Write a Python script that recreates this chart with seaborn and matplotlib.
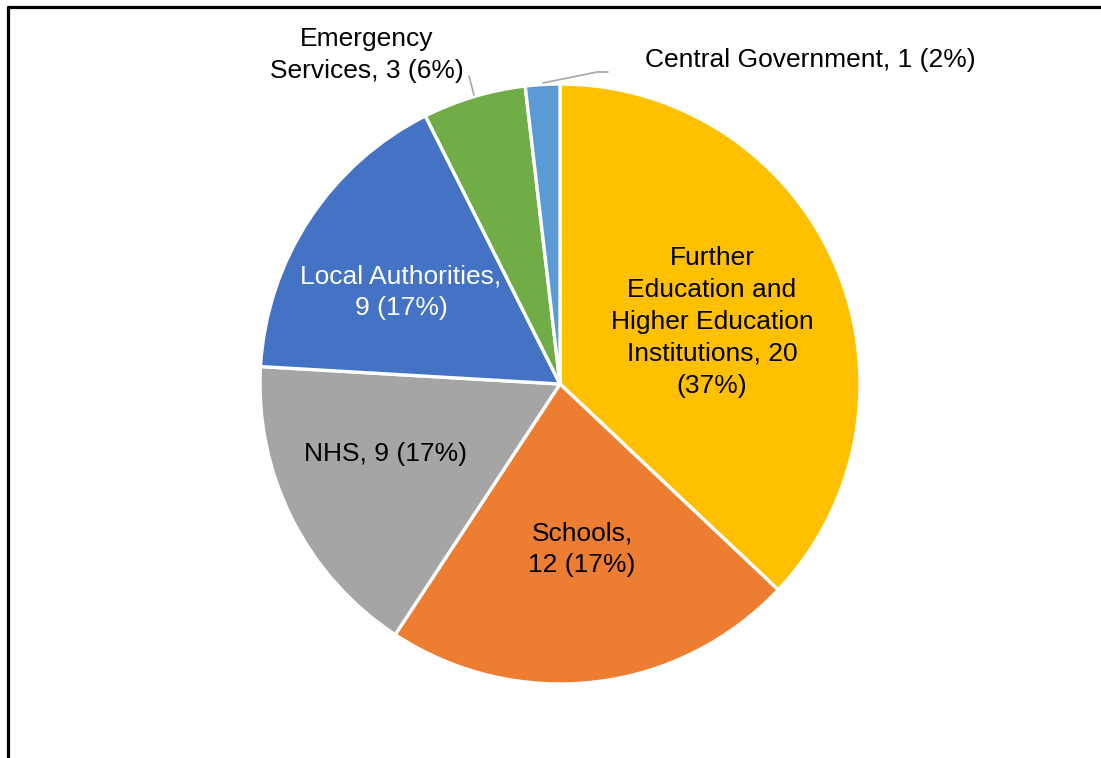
import matplotlib
matplotlib.use("Agg")
import matplotlib.pyplot as plt
import seaborn as sns
from matplotlib.lines import Line2D

# Sector counts (clockwise from 12 o'clock)
sectors = ["Further Education and Higher Education Institutions", "Schools", "NHS",
           "Local Authorities", "Emergency Services", "Central Government"]
counts = [20, 12, 9, 9, 3, 1]
labels = [
    "Further\nEducation and\nHigher Education\nInstitutions, 20\n(37%)",
    "Schools,\n12 (17%)",
    "NHS, 9 (17%)",
    "Local Authorities,\n9 (17%)",
    "Emergency\nServices, 3 (6%)",
    "Central Government, 1 (2%)",
]
colors = ["#FFC000", "#ED7D31", "#A5A5A5", "#4472C4", "#70AD47", "#5B9BD5"]

sns.set_style("white")
plt.rcParams["font.family"] = ["Liberation Sans", "DejaVu Sans"]

W, H = 1101, 758
fig = plt.figure(figsize=(W / 100, H / 100), dpi=100)
ax = fig.add_axes([0, 0, 1, 1])

def py(y):
    # pixel row (from top) -> data y
    return H - y

cx, cy, r = 560, py(384), 300
ax.pie(counts, colors=sns.color_palette(colors), startangle=90, counterclock=False,
       center=(cx, cy), radius=r, frame=True,
       wedgeprops=dict(edgecolor="white", linewidth=2.4))
ax.set_xlim(0, W)
ax.set_ylim(0, H)
ax.set_aspect("equal")
ax.axis("off")

fs = 19
ls = 1.42
# inside labels
ax.text(712, py(322), labels[0], ha="center", va="center", fontsize=fs,
        linespacing=ls, color="black")
ax.text(582, py(549), labels[1], ha="center", va="center", fontsize=fs,
        linespacing=ls, color="black")
ax.text(386, py(454), labels[2], ha="center", va="center", fontsize=fs,
        linespacing=ls, color="black")
ax.text(401, py(292), labels[3], ha="center", va="center", fontsize=fs,
        linespacing=ls, color="white")
# outside labels with leader lines
ax.text(367, py(55), labels[4], ha="center", va="center", fontsize=fs,
        linespacing=ls, color="black")
ax.text(645, py(60), labels[5], ha="left", va="center", fontsize=fs,
        linespacing=ls, color="black")
ax.add_line(Line2D([469, 474], [py(76), py(95)], color="#A6A6A6", lw=1.2))
ax.add_line(Line2D([543, 597, 608], [py(83), py(72), py(72)], color="#A6A6A6", lw=1.2))

# chart frame (top and left edges visible)
fig.add_artist(Line2D([8 / W, 1], [1 - 7 / H, 1 - 7 / H], color="black", lw=2.3,
                      transform=fig.transFigure))
fig.add_artist(Line2D([8 / W, 8 / W], [0, 1 - 7 / H], color="black", lw=2.3,
                      transform=fig.transFigure))

fig.savefig("out.png", dpi=100, facecolor="white")
